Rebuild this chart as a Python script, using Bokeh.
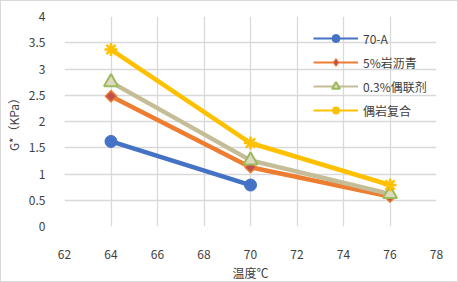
import math
from bokeh.plotting import figure
from bokeh.models import Range1d, FixedTicker, Legend, LegendItem
from bokeh.embed import file_html
from bokeh.resources import INLINE

temps = [64, 70, 76]
temps_a = [64, 70]
s_70a = [1.62, 0.79]
s_5pct = [2.48, 1.13, 0.57]
s_03pct = [2.75, 1.26, 0.62]
s_combo = [3.37, 1.59, 0.79]
names = ["70-A", "5%岩沥青", "0.3%偶联剂", "偶岩复合"]
x_ticks = [62, 64, 66, 68, 70, 72, 74, 76, 78]
y_ticks = [0, 0.5, 1, 1.5, 2, 2.5, 3, 3.5, 4]
y_tick_labels = ["0", "0.5", "1", "1.5", "2", "2.5", "3", "3.5", "4"]

CJK = "Noto Sans CJK SC"
TXT = "#404040"

p = figure(width=458, height=282, output_backend="svg", toolbar_location=None,
           x_range=Range1d(62, 78), y_range=Range1d(0, 4),
           min_border_left=58, min_border_right=23, min_border_top=15, min_border_bottom=57,
           styles={"border": "1px solid #D9D9D9", "box-sizing": "border-box"})
p.outline_line_color = None
p.background_fill_color = "white"
p.border_fill_color = "white"

for ax in (p.xaxis[0], p.yaxis[0]):
    ax.axis_line_color = None
    ax.major_tick_line_color = None
    ax.minor_tick_line_color = None
    ax.major_label_text_font = CJK
    ax.major_label_text_font_size = "12px"
    ax.major_label_text_color = TXT
    ax.axis_label_text_font = CJK
    ax.axis_label_text_font_size = "12px"
    ax.axis_label_text_color = TXT
    ax.axis_label_text_font_style = "normal"

p.xaxis.ticker = FixedTicker(ticks=x_ticks)
p.yaxis.ticker = FixedTicker(ticks=y_ticks)
p.yaxis.major_label_overrides = {t: l for t, l in zip(y_ticks, y_tick_labels)}
p.xaxis.major_label_standoff = 17
p.yaxis.major_label_standoff = 13
p.xaxis.axis_label = "温度℃"
p.xaxis.axis_label_standoff = 2
p.yaxis.axis_label = "G*（KPa）"
p.yaxis.axis_label_standoff = 4

p.xgrid.grid_line_color = "#D9D9D9"
p.ygrid.grid_line_color = "#D9D9D9"
p.xgrid.grid_line_width = 1.3
p.ygrid.grid_line_width = 1.3

lw = 4.5
lw_leg = 2

series = [
    dict(x=temps_a, y=s_70a, color="#4472C4"),
    dict(x=temps, y=s_5pct, color="#ED7D31"),
    dict(x=temps, y=s_03pct, color="#C4BD97"),
    dict(x=temps, y=s_combo, color="#FFC000"),
]
thin = []
for s in series:
    # thin line (used by the legend) lies under the thick plotted line
    thin.append(p.line(s["x"], s["y"], line_color=s["color"], line_width=lw_leg))
    p.line(s["x"], s["y"], line_color=s["color"], line_width=lw)

m1 = p.scatter(temps_a, s_70a, marker="circle", size=12, fill_color="#4472C4", line_color="#4472C4")

# legend diamond (hidden under the rotated square in the plot)
m2 = p.scatter(temps, s_5pct, marker="diamond", size=10, fill_color="#C0504D",
               line_color="#ED7D31", line_width=1)
p.scatter(temps, s_5pct, marker="square", angle=math.pi / 4, size=8, fill_color="#C0504D",
          line_color="#ED7D31", line_width=1.5)

m3 = p.scatter(temps, s_03pct, marker="triangle", size=14, fill_color="#DDD9C3", line_color="#9BBB59",
               line_width=2)
m4 = p.scatter(temps, s_combo, marker="asterisk", size=13, line_color="#FFC000", line_width=2.5)

leg = Legend(items=[
    LegendItem(label=names[0], renderers=[thin[0], m1]),
    LegendItem(label=names[1], renderers=[thin[1], m2]),
    LegendItem(label=names[2], renderers=[thin[2], m3]),
    LegendItem(label=names[3], renderers=[thin[3], m4]),
])
leg.location = (249, 106)
leg.background_fill_alpha = 0
leg.border_line_alpha = 0
leg.padding = 0
leg.margin = 0
leg.spacing = 4
leg.glyph_width = 45
leg.glyph_height = 20
leg.label_standoff = 5
leg.label_text_font = CJK
leg.label_text_font_size = "12px"
leg.label_text_color = TXT
p.add_layout(leg)

open("out.html", "w").write(file_html(p, INLINE))
